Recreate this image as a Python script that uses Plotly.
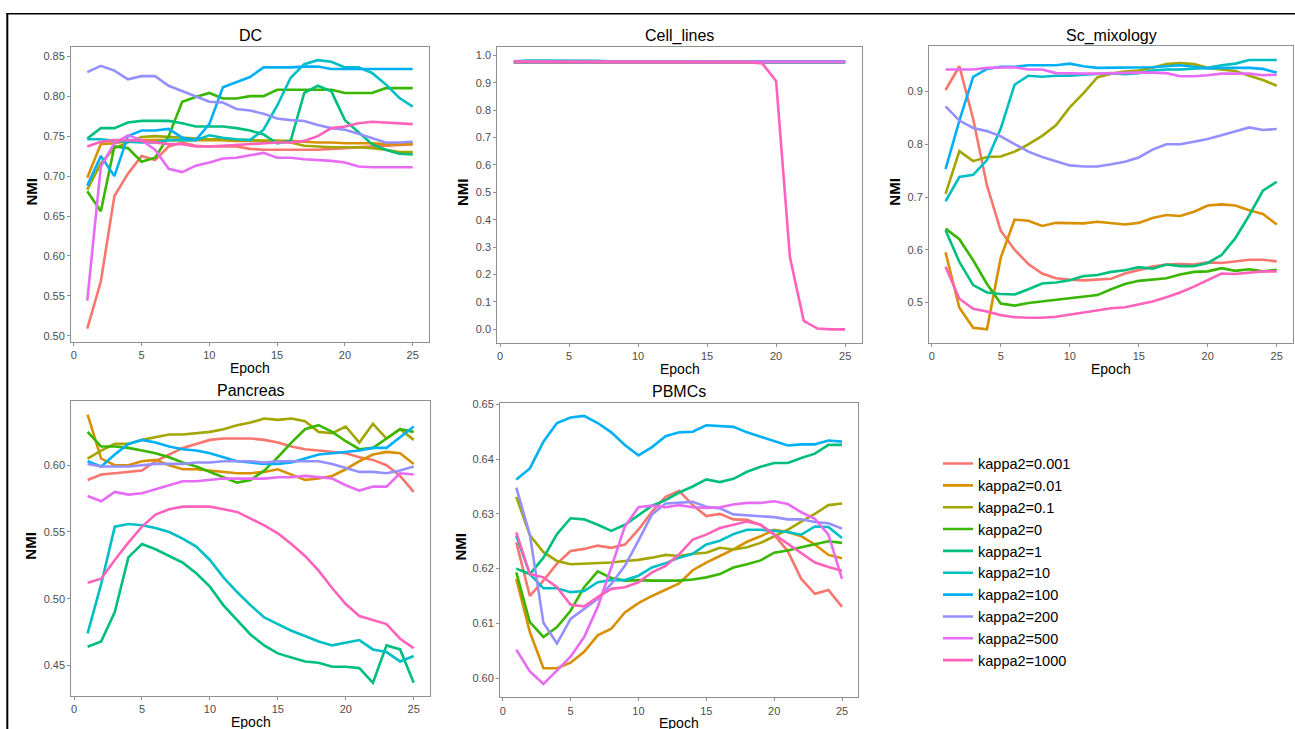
import plotly.graph_objects as go

W, H = 1295, 729
FONT = "Arial, Liberation Sans, sans-serif"

epochs = list(range(1, 26))
series_names = ["kappa2=0.001", "kappa2=0.01", "kappa2=0.1", "kappa2=0", "kappa2=1",
                "kappa2=10", "kappa2=100", "kappa2=200", "kappa2=500", "kappa2=1000"]
series_colors = ["#F8766D", "#D89000", "#A3A500", "#39B600", "#00BF7D",
                 "#00BFC4", "#00B0F6", "#9590FF", "#E76BF3", "#FF62BC"]
panel_titles = ["DC", "Cell_lines", "Sc_mixology", "Pancreas", "PBMCs"]
x_ticks = [0, 5, 10, 15, 20, 25]

dc_values = [
    [0.509,0.568,0.675,0.703,0.725,0.720,0.737,0.742,0.738,0.737,0.737,0.737,0.734,0.733,0.733,0.733,0.733,0.733,0.734,0.735,0.736,0.737,0.738,0.739,0.740],
    [0.698,0.740,0.741,0.744,0.745,0.745,0.745,0.745,0.745,0.745,0.745,0.744,0.744,0.744,0.744,0.744,0.743,0.742,0.742,0.741,0.741,0.741,0.740,0.740,0.740],
    [0.683,0.716,0.735,0.742,0.749,0.750,0.749,0.748,0.747,0.746,0.746,0.745,0.745,0.744,0.744,0.742,0.738,0.737,0.736,0.736,0.736,0.735,0.733,0.730,0.730],
    [0.681,0.656,0.737,0.735,0.718,0.723,0.750,0.793,0.799,0.804,0.797,0.797,0.800,0.800,0.808,0.808,0.808,0.808,0.808,0.804,0.804,0.804,0.810,0.810,0.810],
    [0.747,0.760,0.760,0.767,0.769,0.769,0.769,0.766,0.762,0.762,0.762,0.760,0.757,0.752,0.741,0.744,0.804,0.813,0.806,0.770,0.755,0.740,0.733,0.728,0.727],
    [0.746,0.746,0.744,0.743,0.742,0.742,0.745,0.745,0.745,0.751,0.748,0.746,0.745,0.758,0.788,0.823,0.840,0.845,0.843,0.836,0.836,0.829,0.815,0.798,0.787],
    [0.688,0.725,0.700,0.750,0.757,0.757,0.759,0.748,0.745,0.765,0.811,0.818,0.824,0.836,0.836,0.836,0.837,0.837,0.834,0.834,0.834,0.834,0.834,0.834,0.834],
    [0.830,0.838,0.832,0.821,0.825,0.825,0.813,0.806,0.799,0.793,0.792,0.784,0.782,0.778,0.772,0.770,0.769,0.764,0.760,0.758,0.753,0.747,0.742,0.742,0.743],
    [0.544,0.712,0.741,0.751,0.745,0.733,0.709,0.705,0.713,0.717,0.722,0.723,0.726,0.729,0.723,0.723,0.721,0.720,0.719,0.717,0.712,0.711,0.711,0.711,0.711],
    [0.737,0.743,0.745,0.745,0.744,0.742,0.740,0.740,0.737,0.737,0.738,0.739,0.740,0.741,0.742,0.742,0.744,0.750,0.760,0.762,0.766,0.768,0.767,0.766,0.765],
]

cell_values = [
    [0.976]*25,
    [0.975]*25,
    [0.976]*25,
    [0.975]*25,
    [0.976]*25,
    [0.978,0.981,0.981,0.981,0.981,0.981,0.980,0.978,0.977,0.977,0.977,0.977,0.977,0.977,0.977,0.977,0.977,0.977,0.977,0.977,0.977,0.977,0.977,0.977,0.977],
    [0.976]*25,
    [0.976]*25,
    [0.976]*25,
    [0.977,0.976,0.976,0.976,0.976,0.976,0.976,0.976,0.976,0.976,0.976,0.976,0.976,0.976,0.976,0.976,0.976,0.975,0.970,0.906,0.264,0.031,0.003,0.000,0.000],
]

scmix_values = [
    [0.903,0.948,0.848,0.722,0.636,0.600,0.573,0.555,0.546,0.543,0.542,0.543,0.545,0.555,0.562,0.568,0.572,0.573,0.572,0.576,0.575,0.578,0.581,0.581,0.578],
    [0.595,0.490,0.452,0.449,0.585,0.657,0.655,0.645,0.651,0.650,0.650,0.653,0.651,0.648,0.651,0.660,0.666,0.664,0.672,0.684,0.686,0.684,0.675,0.668,0.648],
    [0.706,0.787,0.768,0.776,0.777,0.786,0.800,0.816,0.836,0.870,0.897,0.927,0.934,0.938,0.940,0.945,0.952,0.954,0.952,0.945,0.942,0.939,0.930,0.922,0.911],
    [0.640,0.620,0.580,0.535,0.498,0.494,0.499,0.502,0.505,0.508,0.511,0.514,0.525,0.535,0.541,0.544,0.546,0.553,0.558,0.559,0.565,0.560,0.563,0.559,0.562],
    [0.637,0.577,0.533,0.519,0.516,0.515,0.525,0.536,0.538,0.542,0.550,0.552,0.558,0.561,0.567,0.564,0.572,0.569,0.569,0.575,0.590,0.622,0.665,0.712,0.729],
    [0.692,0.738,0.742,0.770,0.830,0.913,0.930,0.928,0.930,0.930,0.932,0.933,0.935,0.933,0.935,0.940,0.942,0.942,0.943,0.945,0.950,0.953,0.960,0.960,0.960],
    [0.753,0.845,0.928,0.943,0.947,0.947,0.950,0.950,0.950,0.953,0.948,0.945,0.945,0.945,0.945,0.946,0.948,0.950,0.947,0.944,0.945,0.945,0.945,0.943,0.936],
    [0.872,0.845,0.831,0.825,0.815,0.800,0.786,0.776,0.768,0.760,0.758,0.758,0.762,0.767,0.775,0.790,0.800,0.800,0.805,0.810,0.817,0.824,0.832,0.827,0.829],
    [0.942,0.942,0.942,0.945,0.946,0.946,0.942,0.942,0.935,0.934,0.934,0.934,0.935,0.936,0.936,0.936,0.935,0.929,0.929,0.931,0.934,0.934,0.934,0.931,0.932],
    [0.568,0.507,0.488,0.483,0.476,0.472,0.471,0.471,0.473,0.477,0.481,0.485,0.489,0.491,0.496,0.502,0.510,0.519,0.530,0.543,0.555,0.554,0.557,0.559,0.559],
]

pancreas_values = [
    [0.589,0.593,0.594,0.595,0.596,0.603,0.608,0.613,0.616,0.619,0.620,0.620,0.620,0.619,0.617,0.614,0.612,0.611,0.610,0.609,0.606,0.604,0.600,0.592,0.580],
    [0.638,0.605,0.600,0.600,0.603,0.604,0.600,0.597,0.597,0.596,0.595,0.594,0.594,0.595,0.597,0.593,0.589,0.590,0.592,0.597,0.603,0.608,0.610,0.609,0.601],
    [0.605,0.611,0.616,0.616,0.619,0.621,0.623,0.623,0.624,0.625,0.627,0.630,0.632,0.635,0.634,0.635,0.633,0.625,0.624,0.629,0.617,0.631,0.620,0.627,0.619],
    [0.625,0.614,0.614,0.613,0.611,0.609,0.606,0.602,0.599,0.595,0.591,0.587,0.589,0.596,0.606,0.617,0.627,0.630,0.625,0.618,0.612,0.613,0.620,0.627,0.625],
    [0.464,0.468,0.490,0.531,0.541,0.537,0.532,0.527,0.519,0.509,0.495,0.484,0.473,0.465,0.459,0.456,0.453,0.452,0.449,0.449,0.448,0.437,0.465,0.462,0.437],
    [0.474,0.511,0.554,0.556,0.555,0.553,0.550,0.545,0.539,0.529,0.516,0.505,0.495,0.486,0.481,0.476,0.472,0.468,0.465,0.467,0.469,0.462,0.460,0.453,0.457],
    [0.603,0.599,0.608,0.616,0.619,0.617,0.614,0.612,0.611,0.609,0.606,0.603,0.602,0.601,0.601,0.602,0.605,0.608,0.609,0.610,0.611,0.613,0.613,0.621,0.629],
    [0.601,0.599,0.599,0.599,0.600,0.601,0.601,0.601,0.602,0.602,0.603,0.603,0.603,0.602,0.603,0.603,0.603,0.603,0.601,0.598,0.595,0.595,0.594,0.596,0.599],
    [0.577,0.573,0.580,0.578,0.579,0.582,0.585,0.588,0.588,0.589,0.590,0.590,0.590,0.590,0.591,0.591,0.592,0.591,0.590,0.585,0.581,0.584,0.584,0.594,0.593],
    [0.512,0.515,0.529,0.542,0.554,0.563,0.567,0.569,0.569,0.569,0.567,0.565,0.560,0.555,0.549,0.541,0.532,0.521,0.508,0.496,0.487,0.484,0.481,0.470,0.463],
]

pbmc_values = [
    [0.6248,0.6150,0.6178,0.6209,0.6232,0.6236,0.6242,0.6238,0.6244,0.6271,0.6304,0.6331,0.6342,0.6316,0.6296,0.6300,0.6290,0.6289,0.6280,0.6262,0.6232,0.6181,0.6154,0.6161,0.6130],
    [0.6181,0.6084,0.6018,0.6018,0.6028,0.6048,0.6078,0.6090,0.6120,0.6137,0.6150,0.6161,0.6173,0.6197,0.6211,0.6223,0.6235,0.6249,0.6259,0.6271,0.6267,0.6259,0.6244,0.6225,0.6219],
    [0.6331,0.6261,0.6230,0.6214,0.6208,0.6209,0.6209,0.6211,0.6214,0.6216,0.6220,0.6225,0.6223,0.6227,0.6229,0.6238,0.6235,0.6239,0.6247,0.6259,0.6271,0.6286,0.6300,0.6316,0.6319],
    [0.6193,0.6102,0.6075,0.6093,0.6123,0.6166,0.6195,0.6183,0.6178,0.6179,0.6178,0.6178,0.6178,0.6180,0.6184,0.6190,0.6202,0.6208,0.6215,0.6229,0.6233,0.6239,0.6244,0.6250,0.6247],
    [0.6200,0.6190,0.6220,0.6263,0.6292,0.6290,0.6280,0.6269,0.6280,0.6298,0.6315,0.6325,0.6339,0.6350,0.6363,0.6358,0.6364,0.6377,0.6386,0.6393,0.6393,0.6402,0.6410,0.6426,0.6426],
    [0.6260,0.6190,0.6164,0.6164,0.6157,0.6159,0.6175,0.6179,0.6179,0.6187,0.6202,0.6210,0.6220,0.6227,0.6244,0.6251,0.6263,0.6271,0.6271,0.6269,0.6267,0.6262,0.6277,0.6276,0.6256],
    [0.6363,0.6383,0.6432,0.6466,0.6476,0.6479,0.6466,0.6449,0.6426,0.6407,0.6422,0.6442,0.6449,0.6450,0.6462,0.6460,0.6459,0.6449,0.6441,0.6434,0.6425,0.6427,0.6427,0.6434,0.6432],
    [0.6348,0.6262,0.6101,0.6063,0.6108,0.6127,0.6145,0.6172,0.6205,0.6251,0.6299,0.6319,0.6321,0.6322,0.6313,0.6310,0.6299,0.6297,0.6295,0.6294,0.6290,0.6290,0.6285,0.6283,0.6273],
    [0.6052,0.6012,0.5989,0.6015,0.6039,0.6075,0.6130,0.6202,0.6277,0.6312,0.6315,0.6312,0.6316,0.6312,0.6311,0.6312,0.6317,0.6320,0.6320,0.6323,0.6318,0.6303,0.6291,0.6262,0.6181],
    [0.6266,0.6190,0.6184,0.6166,0.6134,0.6131,0.6148,0.6163,0.6166,0.6175,0.6193,0.6205,0.6226,0.6253,0.6262,0.6274,0.6280,0.6286,0.6280,0.6263,0.6245,0.6229,0.6211,0.6203,0.6196],
]

dc_yticks = [0.50, 0.55, 0.60, 0.65, 0.70, 0.75, 0.80, 0.85]
cell_yticks = [0.0, 0.1, 0.2, 0.3, 0.4, 0.5, 0.6, 0.7, 0.8, 0.9, 1.0]
scmix_yticks = [0.5, 0.6, 0.7, 0.8, 0.9]
pancreas_yticks = [0.45, 0.50, 0.55, 0.60]
pbmc_yticks = [0.60, 0.61, 0.62, 0.63, 0.64, 0.65]

panels = [
    # title, values, yticks, fmt, box px (left, top, right, bottom), NMI x px
    (panel_titles[0], dc_values, dc_yticks, ".2f", (71, 43, 429, 340), 31),
    (panel_titles[1], cell_values, cell_yticks, ".1f", (497.3, 43.3, 861.7, 340.7), 463),
    (panel_titles[2], scmix_values, scmix_yticks, ".1f", (929, 42.7, 1293.3, 340.7), 895),
    (panel_titles[3], pancreas_values, pancreas_yticks, ".2f", (71.3, 399.3, 430, 696), 31),
    (panel_titles[4], pbmc_values, pbmc_yticks, ".2f", (500, 400.7, 858.3, 697.3), 460.5),
]

def px_x(v):
    return v / W

def px_y(v):
    return 1 - v / H

fig = go.Figure()
layout = dict(
    width=W, height=H, autosize=False,
    margin=dict(l=0, r=0, t=0, b=0),
    paper_bgcolor="white", plot_bgcolor="white",
    font=dict(family=FONT, color="black"),
    showlegend=True,
    legend=dict(
        x=px_x(938), y=px_y(446), xanchor="left", yanchor="top",
        font=dict(family=FONT, size=14.5, color="black"),
        itemwidth=30, tracegroupgap=0, bgcolor="rgba(0,0,0,0)",
    ),
)
annotations = []

x_lo, x_hi = 1 - 0.05 * 24, 25 + 0.05 * 24

for i, (title, values, yticks, fmt, box, nmi_x) in enumerate(panels):
    k = i + 1
    xa = "x" if k == 1 else f"x{k}"
    ya = "y" if k == 1 else f"y{k}"
    left, top, right, bottom = box
    allv = [v for s in values for v in s]
    lo, hi = min(allv), max(allv)
    span = hi - lo
    y_lo, y_hi = lo - 0.05 * span, hi + 0.05 * span
    for j, name in enumerate(series_names):
        fig.add_trace(go.Scatter(
            x=epochs, y=values[j], mode="lines", name=name,
            line=dict(color=series_colors[j], width=2.6),
            xaxis=xa, yaxis=ya, legendgroup=name, showlegend=(k == 1),
        ))
    axis_style = dict(
        showline=True, mirror=True, linecolor="#8f8f8f", linewidth=1,
        ticks="outside", ticklen=3, tickwidth=1, tickcolor="#8f8f8f",
        tickfont=dict(family=FONT, size=11, color="#4d4d4d"),
        showgrid=False, zeroline=False,
    )
    layout["xaxis" if k == 1 else f"xaxis{k}"] = dict(
        axis_style, domain=[px_x(left), px_x(right)], range=[x_lo, x_hi],
        tickvals=x_ticks, anchor=ya,
    )
    layout["yaxis" if k == 1 else f"yaxis{k}"] = dict(
        axis_style, domain=[px_y(bottom), px_y(top)], range=[y_lo, y_hi],
        tickvals=yticks, tickformat=fmt, anchor=xa,
    )
    cx = (left + right) / 2
    annotations.append(dict(
        text=title, x=px_x(cx), y=px_y(top - 11), xref="paper", yref="paper",
        xanchor="center", yanchor="middle", showarrow=False,
        font=dict(family=FONT, size=16, color="black"),
    ))
    annotations.append(dict(
        text="Epoch", x=px_x(cx), y=px_y(bottom + 26), xref="paper", yref="paper",
        xanchor="center", yanchor="middle", showarrow=False,
        font=dict(family=FONT, size=14, color="black"),
    ))
    annotations.append(dict(
        text="<b>NMI</b>", x=px_x(nmi_x), y=px_y((top + bottom) / 2 - 3), xref="paper", yref="paper",
        xanchor="center", yanchor="middle", showarrow=False, textangle=-90,
        font=dict(family=FONT, size=15, color="black"),
    ))

layout["annotations"] = annotations
layout["shapes"] = [
    dict(type="line", xref="paper", yref="paper", x0=px_x(6.5), x1=1, y0=px_y(9.7), y1=px_y(9.7),
         line=dict(color="black", width=1.5)),
    dict(type="line", xref="paper", yref="paper", x0=px_x(7.3), x1=px_x(7.3), y0=px_y(9), y1=0,
         line=dict(color="black", width=2)),
]
fig.update_layout(**layout)
fig.write_html(
    "out.html",
    config={"displayModeBar": False},
    post_script="document.body.style.margin='0';document.body.style.overflow='hidden';",
)
